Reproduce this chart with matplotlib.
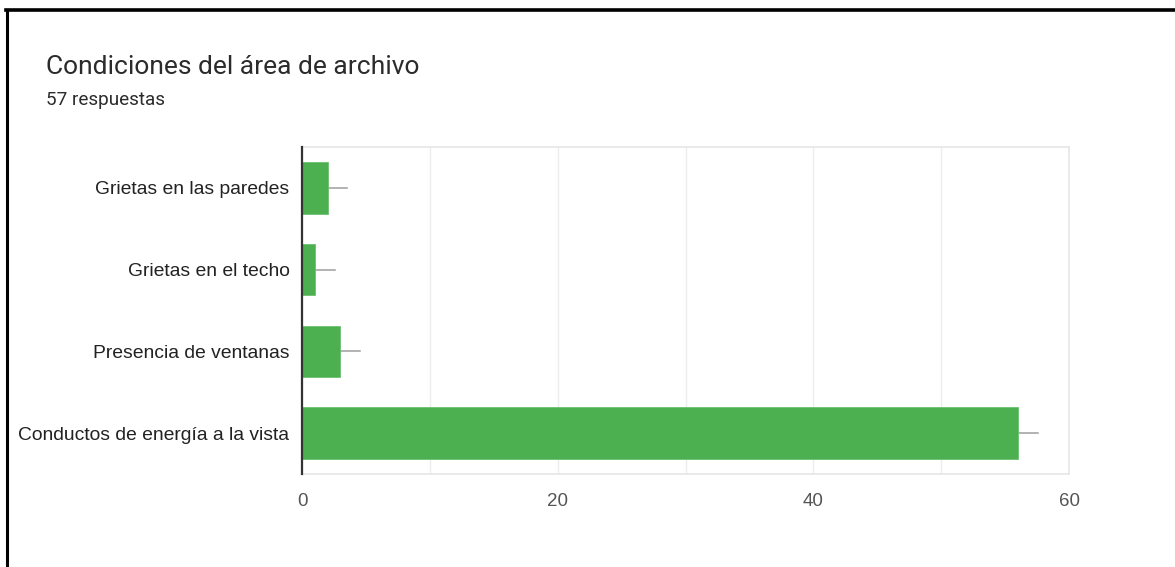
import matplotlib
matplotlib.use("Agg")
import matplotlib.pyplot as plt
from matplotlib.lines import Line2D

# datos de la encuesta
titulo = "Condiciones del área de archivo"
respuestas = "57 respuestas"
categorias = ["Grietas en las paredes", "Grietas en el techo",
              "Presencia de ventanas", "Conductos de energía a la vista"]
valores = [2, 1, 3, 56]
ticks_x = [0, 20, 40, 60]

W, H = 1175, 567
fig = plt.figure(figsize=(W / 100, H / 100), dpi=100)
fig.patch.set_facecolor("white")

# marco negro (arriba y a la izquierda)
fig.add_artist(Line2D([7 / W, 7 / W], [0, 1 - 10 / H], color="black", lw=2.2,
                      transform=fig.transFigure))
fig.add_artist(Line2D([6 / W, 1], [1 - 10 / H, 1 - 10 / H], color="black", lw=2.6,
                      transform=fig.transFigure))

fig.text(46 / W, 1 - 67 / H, titulo, fontsize=19, family="Roboto",
         color="#2b2b2b", va="center", ha="left")
fig.text(46 / W, 1 - 100 / H, respuestas, fontsize=13.6, family="Roboto",
         color="#2b2b2b", va="center", ha="left")

ax = fig.add_axes([302 / W, 93 / H, 767 / W, 327 / H])
pos = list(range(len(categorias)))
ax.barh(pos, valores, height=0.63, color="#4caf50", edgecolor="#6cc070",
        linewidth=0.6, zorder=3)

# lineas guia al final de cada barra
for p, v in zip(pos, valores):
    ax.plot([v, v + 1.55], [p, p], color="#9e9e9e", lw=1.1, zorder=2)

ax.set_xlim(0, 60)
ax.set_ylim(len(categorias) - 0.5, -0.5)
ax.set_yticks(pos)
ax.set_yticklabels(categorias, family="Liberation Sans", fontsize=13.9,
                   color="#222222")
ax.set_xticks(range(0, 61, 10))
ax.set_xticklabels([str(t) if t in ticks_x else "" for t in range(0, 61, 10)],
                   family="Liberation Sans", fontsize=13.5, color="#555555")
ax.tick_params(axis="both", length=0)
ax.tick_params(axis="x", pad=14)
ax.tick_params(axis="y", pad=9)
ax.grid(axis="x", color="#ececec", lw=1, zorder=0)

for s in ["top", "right", "bottom"]:
    ax.spines[s].set_color("#e6e6e6")
    ax.spines[s].set_linewidth(1.2)
ax.spines["left"].set_color("#333333")
ax.spines["left"].set_linewidth(1.6)
ax.spines["left"].set_zorder(4)

fig.savefig("out.png", dpi=100, facecolor="white")
